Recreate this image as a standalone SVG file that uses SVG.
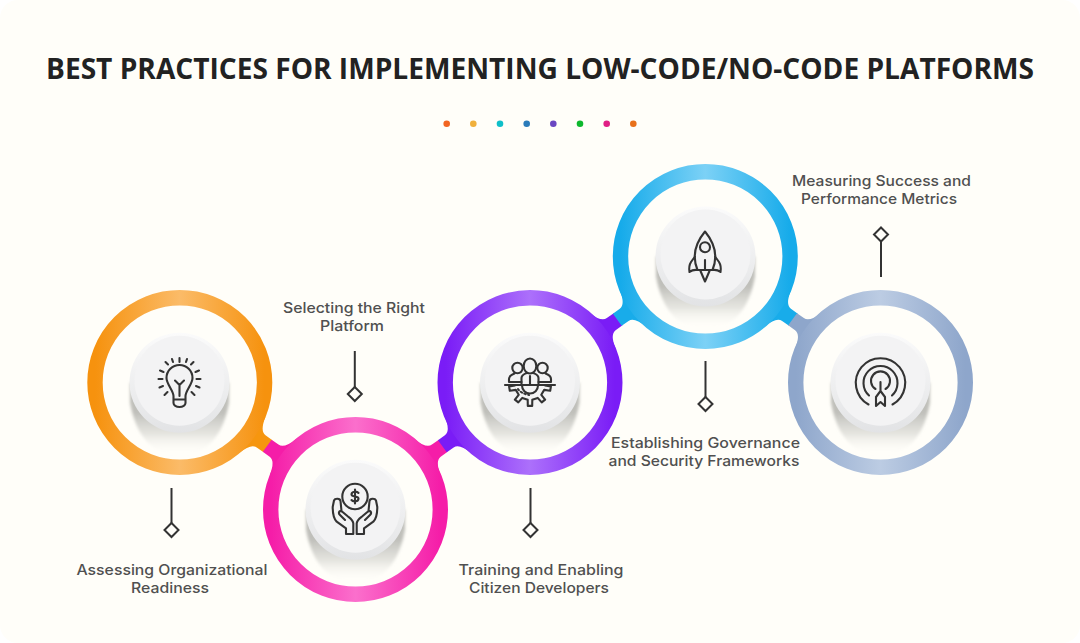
<svg xmlns="http://www.w3.org/2000/svg" width="1080" height="643" viewBox="0 0 1080 643">
<style>
.t{font-family:"Open Sans","Liberation Sans",sans-serif;font-weight:700;font-size:28.500px;fill:#222222}
.l{font-family:"Inter","Liberation Sans",sans-serif;font-weight:500;font-size:14.500px;fill:#505050;text-anchor:middle}
.ring{fill:none;stroke-width:15.400}
.ic{fill:none;stroke:#333333;stroke-width:2.100;stroke-linecap:round;stroke-linejoin:round}
.lead{fill:none;stroke:#333333;stroke-width:2}
</style>
<defs>
<linearGradient id="go"><stop offset="0" stop-color="#F6920E"/><stop offset=".5" stop-color="#FBBB68"/><stop offset="1" stop-color="#F6920E"/></linearGradient>
<linearGradient id="gp"><stop offset="0" stop-color="#F51DA8"/><stop offset=".5" stop-color="#FB6FCC"/><stop offset="1" stop-color="#F51DA8"/></linearGradient>
<linearGradient id="gv"><stop offset="0" stop-color="#7A1CF6"/><stop offset=".5" stop-color="#AC70FB"/><stop offset="1" stop-color="#7A1CF6"/></linearGradient>
<linearGradient id="gb"><stop offset="0" stop-color="#16ABEA"/><stop offset=".5" stop-color="#7CD1F6"/><stop offset="1" stop-color="#16ABEA"/></linearGradient>
<linearGradient id="gs"><stop offset="0" stop-color="#8EA6CB"/><stop offset=".5" stop-color="#BCCCE3"/><stop offset="1" stop-color="#8EA6CB"/></linearGradient>
<linearGradient id="disc" x1="0" y1="0" x2="0" y2="1"><stop offset="0" stop-color="#FBFBFB"/><stop offset="1" stop-color="#E2E3E5"/></linearGradient>
<linearGradient id="sh" gradientUnits="userSpaceOnUse" x1="0" y1="30" x2="0" y2="72"><stop offset="0" stop-color="#B4B4AF" stop-opacity=".85"/><stop offset=".5" stop-color="#D4D4CF" stop-opacity=".6"/><stop offset="1" stop-color="#FFFEF9" stop-opacity="0"/></linearGradient>
<filter id="soft" x="-10%" y="-10%" width="120%" height="120%"><feGaussianBlur stdDeviation="1.500"/></filter>
<path id="neck" d="M-21-22H-18.700Q-15-7.500-8-7.500H.5V7.500H-8Q-15 7.500-18.700 22H-21Z"/>
<g id="knob">
<path d="M-49.500 0H49.500V20Q40 72 0 72Q-40 72-49.500 20Z" fill="url(#sh)" filter="url(#soft)"/>
<circle r="50" fill="url(#disc)"/>
<circle cy="-2" r="45" fill="#F3F3F4"/>
</g>
<path id="diamond" d="M0-7L7 0L0 7L-7 0Z" fill="none" stroke="#333333" stroke-width="2"/>
</defs>
<rect width="1080" height="643" fill="#FFFFFF"/>
<rect width="1080" height="643" rx="18" fill="#FFFEF9"/>
<text class="t" x="540" y="78.500" text-anchor="middle" textLength="988" lengthAdjust="spacingAndGlyphs">BEST PRACTICES FOR IMPLEMENTING LOW-CODE/NO-CODE PLATFORMS</text>
<g id="dots">
<circle cx="446.700" cy="123.700" r="3.300" fill="#F26522"/>
<circle cx="473.300" cy="123.700" r="3.300" fill="#F0B03C"/>
<circle cx="500" cy="123.700" r="3.300" fill="#0FBFC9"/>
<circle cx="526.700" cy="123.700" r="3.300" fill="#2A7BBA"/>
<circle cx="553.300" cy="123.700" r="3.300" fill="#6A47C2"/>
<circle cx="580" cy="123.700" r="3.300" fill="#0DB82E"/>
<circle cx="606.700" cy="123.700" r="3.300" fill="#E01F85"/>
<circle cx="633.300" cy="123.700" r="3.300" fill="#E8701A"/>
</g>
<g id="connectors">
<g transform="translate(267.600 446) rotate(35.900)"><use href="#neck" fill="#F6960F"/><use href="#neck" fill="#F51DA8" transform="scale(-1 1)"/></g>
<g transform="translate(442.800 446) rotate(-35.900)"><use href="#neck" fill="#F51DA8"/><use href="#neck" fill="#7A1CF6" transform="scale(-1 1)"/></g>
<g transform="translate(617.700 319.500) rotate(-35.900)"><use href="#neck" fill="#7A1CF6"/><use href="#neck" fill="#18ACEA" transform="scale(-1 1)"/></g>
<g transform="translate(793 319.500) rotate(35.900)"><use href="#neck" fill="#18ACEA"/><use href="#neck" fill="#8EA6CB" transform="scale(-1 1)"/></g>
<path class="lead" d="M171.500 488V523"/><use href="#diamond" x="171.500" y="530"/>
<path class="lead" d="M354.800 351V387"/><use href="#diamond" x="354.800" y="394"/>
<path class="lead" d="M530.500 488V523"/><use href="#diamond" x="530.500" y="530"/>
<path class="lead" d="M705.500 361V397"/><use href="#diamond" x="705.500" y="404"/>
<path class="lead" d="M881 277V241"/><use href="#diamond" x="881" y="234.500"/>
</g>
<g id="node1">
<circle class="ring" cx="179.800" cy="382.500" r="84.800" stroke="url(#go)"/>
<use href="#knob" x="179.500" y="382.700"/>
<g class="ic" transform="translate(179.500 385)">
<path d="M-6 14.500V11C-6 6-13-1-13-7A13 13 0 0 1 13-7C13-1 6 6 6 11V14.500ZM-6 14.500V18A6 4 0 0 0 6 18V14.500M0 11V0M-4.500-4.500L0 0L4.500-4.500"/>
<path d="M-21-6H-17M17-6H21M0-27V-23M-14-23L-11.500-20.500M14-23L11.500-20.500M-19.500-14.500L-16-13M19.500-14.500L16-13M-20 2.500L-16.500 1M20 2.500L16.500 1M-15 10L-12 7M15 10L12 7M-7.500-26L-6.500-23M7.500-26L6.500-23"/>
</g>
</g>
<g id="node2">
<circle class="ring" cx="355.500" cy="509.500" r="84.800" stroke="url(#gp)"/>
<use href="#knob" x="355.500" y="509.700"/>
<g class="ic" transform="translate(355 510)">
<circle cy="-13.500" r="12.700"/>
<path d="M3.500-17C2-19-3.500-19-3.500-15.500C-3.500-12.500 3.500-14.500 3.500-11.500C3.500-8-2-8-3.500-10M0-20.500V-6.500"/>
<path d="M-9 24V18.300L-18.300 11.700C-21 9-22.300 5-22.300-3L-21-9.500C-20-12-15-12-14.500-9L-13.500 1M-1.700 24H-9M-1.700 24V13.300C-2 10-5 8-7 6.500L-13 1.500C-16 0-17 3-15 5L-10 10"/>
<path d="M9 24V18.300L18.300 11.700C21 9 22.300 5 22.300-3L21-9.500C20-12 15-12 14.500-9L13.500 1M1.700 24H9M1.700 24V13.300C2 10 5 8 7 6.500L13 1.500C16 0 17 3 15 5L10 10"/>
</g>
</g>
<g id="node3">
<circle class="ring" cx="530" cy="382.500" r="84.800" stroke="url(#gv)"/>
<use href="#knob" x="530" y="382.700"/>
<g class="ic" transform="translate(530 385)">
<path d="M-25 0H25"/>
<circle cx="-12.500" cy="-17" r="5.200"/>
<circle cx="12.500" cy="-17" r="5.200"/>
<path d="M-21-3V-6C-21-9-18-10.500-15.500-11.500M21-3V-6C21-9 18-10.500 15.500-11.500M-21-3H-8.500M21-3H8.500"/>
<ellipse cy="-19" rx="6.300" ry="7.500" fill="#F3F3F4"/>
<path d="M-8.500 0V-7C-8.500-10-5.500-11-3.500-12M8.500 0V-7C8.500-10 5.500-11 3.500-12M0-1V-9"/>
<path d="M15 .5L20.900 1.500L20.200 5.800L14.200 4.900L11.300 9.800L15.100 14.600L11.700 17.400L7.700 12.900L2.300 14.800L2.200 20.900L-2.200 20.900L-2.300 14.800L-7.700 12.900L-11.700 17.400L-15.100 14.600L-11.300 9.800L-14.200 4.900L-20.200 5.800L-20.900 1.500L-15 .5"/>
<path d="M-8 .5A8 8 0 0 0 8 .5"/>
<path d="M-12 4C-10 7-6 9-1 10" stroke-dasharray="1.500 2.500"/>
</g>
</g>
<g id="node4">
<circle class="ring" cx="705.300" cy="256.500" r="84.800" stroke="url(#gb)"/>
<use href="#knob" x="705.500" y="256.500"/>
<g class="ic" transform="translate(705 256)">
<path d="M-7.500 14C-12 3-12-10 0-24.500C12-10 12 3 7.500 14Z"/>
<circle cy="-8.700" r="5"/>
<path d="M0 4V14"/>
<path d="M-4.500 15L0 25.500L4.500 15"/>
<path d="M-10 .5L-14 6C-16.500 10-16 13-15.500 16C-13 14-11 13.500-7.500 14M10 .5L14 6C16.500 10 16 13 15.500 16C13 14 11 13.500 7.500 14"/>
</g>
</g>
<g id="node5">
<circle class="ring" cx="880.500" cy="382.500" r="84.800" stroke="url(#gs)"/>
<use href="#knob" x="880.500" y="382.700"/>
<g class="ic" transform="translate(880.500 383)">
<path d="M-12 21.500A24.700 24.700 0 1 1 12 21.500"/>
<path d="M-11.500 12.500A17 17 0 1 1 11.500 12.500"/>
<path d="M-5 6A9.500 9.500 0 1 1 5 6"/>
<path d="M0-1V8M-4.500 23V14L0 8L4.500 14V23L0 19Z"/>
</g>
</g>
<g id="labels">
<text class="l" x="172" y="574.500" textLength="191" lengthAdjust="spacingAndGlyphs">Assessing Organizational</text>
<text class="l" x="170" y="592.500" textLength="78" lengthAdjust="spacingAndGlyphs">Readiness</text>
<text class="l" x="354" y="312.500" textLength="142" lengthAdjust="spacingAndGlyphs">Selecting the Right</text>
<text class="l" x="352" y="330.500" textLength="64" lengthAdjust="spacingAndGlyphs">Platform</text>
<text class="l" x="541" y="574.500" textLength="165" lengthAdjust="spacingAndGlyphs">Training and Enabling</text>
<text class="l" x="539" y="592.500" textLength="140" lengthAdjust="spacingAndGlyphs">Citizen Developers</text>
<text class="l" x="705.500" y="447.500" textLength="189" lengthAdjust="spacingAndGlyphs">Establishing Governance</text>
<text class="l" x="704" y="465.500" textLength="191" lengthAdjust="spacingAndGlyphs">and Security Frameworks</text>
<text class="l" x="881.500" y="185.500" textLength="179" lengthAdjust="spacingAndGlyphs">Measuring Success and</text>
<text class="l" x="879" y="203.500" textLength="156" lengthAdjust="spacingAndGlyphs">Performance Metrics</text>
</g>
</svg>
